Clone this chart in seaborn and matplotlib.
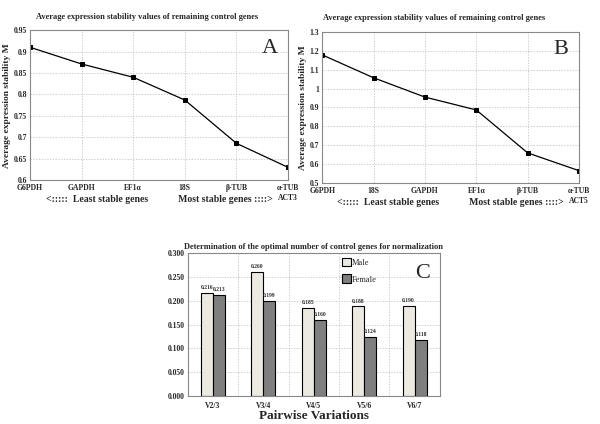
import matplotlib
matplotlib.use('Agg')
import matplotlib.pyplot as plt
import pandas as pd
import numpy as np
import seaborn as sns

# panel A
genes_a = ['G6PDH', 'GAPDH', 'EF1α', '18S', 'β-TUB', 'α-TUB\nACT3']
m_a = [0.910, 0.871, 0.840, 0.787, 0.686, 0.630]
# panel B
genes_b = ['G6PDH', '18S', 'GAPDH', 'EF1α', 'β-TUB', 'α-TUB\nACT5']
m_b = [1.178, 1.057, 0.955, 0.887, 0.660, 0.566]
# panel C
pairs = ['V2/3', 'V3/4', 'V4/5', 'V5/6', 'V6/7']
male = [0.216, 0.260, 0.185, 0.188, 0.190]
female = [0.213, 0.199, 0.160, 0.124, 0.118]

sns.set_style('white')
plt.rcParams['font.family'] = ['Liberation Serif', 'DejaVu Serif']
plt.rcParams['font.weight'] = 'bold'

fig = plt.figure(figsize=(6, 4.24), dpi=100)

def frame(ax):
    for s in ax.spines.values():
        s.set_color('#888888')
        s.set_linewidth(0.8)
    ax.grid(True, color='#bbbbbb', linestyle=(0, (2, 2)), linewidth=0.5)
    ax.tick_params(length=0, labelsize=5.5, pad=2)
    ax.tick_params(axis='x', pad=3)
    for t in ax.get_xticklabels() + ax.get_yticklabels():
        t.set_fontweight('bold')

def line_panel(rect, genes, vals, ylim, yticks, letter, tx):
    ax = fig.add_axes(rect)
    df = pd.DataFrame({'gene': genes, 'M': vals})
    sns.lineplot(data=df, x='gene', y='M', ax=ax, color='black', lw=0.9,
                 marker='s', markersize=3.5, markeredgecolor='black', sort=False)
    ax.set_xlim(0, len(genes) - 1)
    ax.set_ylim(*ylim)
    ax.set_yticks(yticks)
    ax.set_yticklabels([f'{v:g}' for v in yticks])
    ax.set_xlabel('<:::::  Least stable genes            Most stable genes ::::>',
                  fontsize=7, fontweight='bold', labelpad=-5)
    ax.set_ylabel('Average expression stability M', fontsize=6.8, fontweight='bold',
                  labelpad=2)
    ax.text(tx, 1.09, 'Average expression stability values of remaining control genes',
            transform=ax.transAxes, fontsize=6, fontweight='bold', ha='left', va='center')
    ax.text(0.93, 0.88, letter, transform=ax.transAxes, fontsize=16,
            fontweight='normal', ha='center', va='center')
    frame(ax)
    return ax

axA = line_panel([0.05, 0.575, 0.43, 0.354], genes_a, m_a, (0.6, 0.95),
                 np.arange(0.6, 0.951, 0.05).round(2), 'A', 0.025)
axB = line_panel([0.537, 0.568, 0.428, 0.357], genes_b, m_b, (0.5, 1.3),
                 np.arange(0.5, 1.301, 0.1).round(1), 'B', 0.005)

# panel C
axC = fig.add_axes([0.313, 0.066, 0.42, 0.337])
dfc = pd.DataFrame({'pair': pairs * 2, 'V': male + female,
                    'sex': ['Male'] * len(pairs) + ['Female'] * len(pairs)})
sns.barplot(data=dfc, x='pair', y='V', hue='sex', ax=axC, width=0.48,
            palette={'Male': '#ECEAE0', 'Female': '#7F7F7F'},
            edgecolor='black', linewidth=0.8, saturation=1)
for c in axC.containers:
    axC.bar_label(c, fmt='%.3f', fontsize=4, fontweight='bold', padding=2)
axC.set_ylim(0, 0.3)
axC.set_xlim(-0.5, len(pairs) - 0.5)
yt = np.arange(0, 0.301, 0.05)
axC.set_yticks(yt)
axC.set_yticklabels([f'{v:.3f}' for v in yt])
axC.set_xticks(np.arange(0.5, len(pairs) - 0.5), minor=True)
frame(axC)
axC.grid(False, axis='x', which='major')
axC.grid(True, axis='x', which='minor', color='#bbbbbb', linestyle=(0, (2, 2)), linewidth=0.5)
axC.tick_params(which='minor', length=0)
axC.tick_params(axis='x', pad=4)
axC.set_xlabel('Pairwise Variations', fontsize=9.5, fontweight='bold', labelpad=0)
axC.set_ylabel('')
axC.set_title('Determination of the optimal number of control genes for normalization',
              fontsize=6, fontweight='bold', pad=3)
axC.text(0.93, 0.86, 'C', transform=axC.transAxes, fontsize=16,
         fontweight='normal', ha='center', va='center')
leg = axC.legend(loc='upper left', bbox_to_anchor=(0.6, 0.99), frameon=False,
                 borderaxespad=0, fontsize=6, handlelength=1.0, handleheight=1.2,
                 handletextpad=0.1, labelspacing=0.9)
for t in leg.get_texts():
    t.set_fontweight('normal')

fig.savefig('out.png', dpi=100)
